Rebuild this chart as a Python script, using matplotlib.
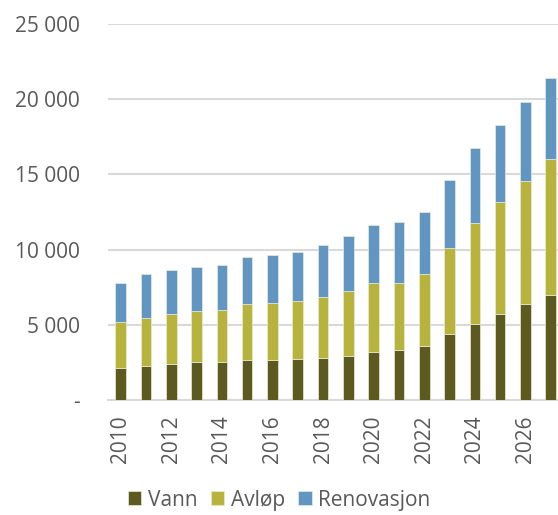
import numpy as np
import matplotlib
matplotlib.use("Agg")
from matplotlib import pyplot as plt
from matplotlib.ticker import FuncFormatter

# data (NOK-ish, thousands not scaled)
years = list(range(2010, 2028))
vann = [2150, 2280, 2410, 2500, 2550, 2680, 2680, 2750, 2790,
        2950, 3170, 3320, 3610, 4370, 5070, 5720, 6360, 7000]
avlop = [3060, 3150, 3310, 3420, 3410, 3680, 3750, 3810, 4060,
         4300, 4610, 4480, 4750, 5740, 6680, 7420, 8200, 9020]
renovasjon = [2590, 2930, 2920, 2920, 3020, 3170, 3210, 3280, 3480,
              3680, 3860, 4010, 4140, 4500, 4980, 5120, 5230, 5370]

serier = ["Vann", "Avløp", "Renovasjon"]
farger = ["#5c5a1f", "#b7b33c", "#6196c3"]
grid_col = "#d9d9d9"
tekst_col = "#595959"

plt.rcParams['font.family'] = ['Open Sans', 'DejaVu Sans']

fig = plt.figure(figsize=(5.58, 5.15), dpi=100)
ax = fig.add_axes([108/558, 115/515, 455.4/558, 376/515])

x = np.arange(len(years))
bunn = np.zeros(len(years))
for navn, verdier, farge in zip(serier, [vann, avlop, renovasjon], farger):
    ax.bar(x, verdier, width=0.42, bottom=bunn, color=farge, label=navn,
           edgecolor="#e8ecd8", linewidth=0.5, zorder=3)
    bunn = bunn + np.array(verdier)

ax.set_xlim(-0.5, len(years) - 0.5)
ax.set_ylim(0, 25000)
ax.set_yticks(np.arange(0, 25001, 5000))
ax.yaxis.set_major_formatter(FuncFormatter(
    lambda v, p: "-" if v == 0 else f"{int(v):,}".replace(",", " ")))
ax.set_xticks(x[::2])
ax.set_xticklabels([str(y) for y in years[::2]], rotation=90)

ax.grid(axis="y", color=grid_col, linewidth=1.5, zorder=0)
for s in ["top", "right", "left"]:
    ax.spines[s].set_visible(False)
ax.spines["bottom"].set_color(grid_col)
ax.spines["bottom"].set_linewidth(1.5)
ax.tick_params(axis="both", length=0, labelsize=15, colors=tekst_col)
ax.tick_params(axis="y", pad=20)
ax.tick_params(axis="x", pad=11)

fig.legend(loc="lower center", bbox_to_anchor=(0.5, -0.028), ncol=3,
           frameon=False, fontsize=15, labelcolor=tekst_col,
           handlelength=0.65, handleheight=0.65, handletextpad=0.3,
           columnspacing=0.65)

fig.savefig("out.png", dpi=100)
